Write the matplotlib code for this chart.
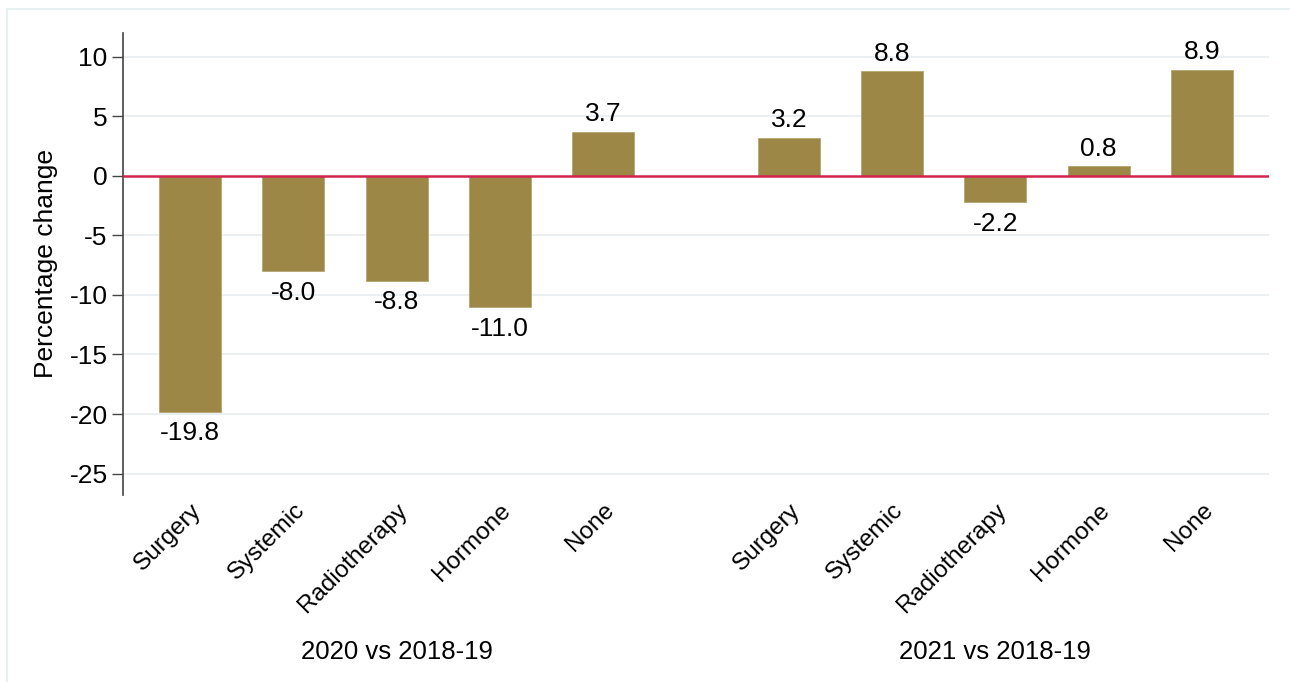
import matplotlib.pyplot as plt
from matplotlib.patches import Rectangle
from matplotlib.ticker import FuncFormatter

plt.rcParams['font.family'] = ['Liberation Sans', 'DejaVu Sans']

treatments = ["Surgery", "Systemic", "Radiotherapy", "Hormone", "None"]
groups = ["2020 vs 2018-19", "2021 vs 2018-19"]
change_2020 = [-19.8, -8.0, -8.8, -11.0, 3.7]
change_2021 = [3.2, 8.8, -2.2, 0.8, 8.9]

bar_color = "#9C8747"
gap = 5.8

fig = plt.figure(figsize=(12.9, 6.82), dpi=100)
ax = fig.add_axes([123/1290, 1 - 495/682, (1269-123)/1290, (495-33)/682])

# light frame around the graph
fig.patches.append(Rectangle((7/1290, -0.01), 1.02, 1 - 9/682 + 0.01,
                             transform=fig.transFigure, fill=False,
                             edgecolor="#E3ECEF", linewidth=1.2))

xs = []
vals = []
labels = []
for g, series in enumerate([change_2020, change_2021]):
    for i, v in enumerate(series):
        xs.append(g * gap + i)
        vals.append(v)
        labels.append(treatments[i])

for y in range(-25, 11, 5):
    if y != 0:
        ax.axhline(y, color="#E8EFF1", lw=1.3, zorder=0)

ax.bar(xs, vals, width=0.6, color=bar_color, edgecolor="#B5A66E", linewidth=0.6, zorder=2)
ax.axhline(0, color="#D3234F", lw=1.8, zorder=3)

for x, v in zip(xs, vals):
    if v >= 0:
        ax.annotate(f"{v:.1f}", (x, v), xytext=(0, 4), textcoords="offset points",
                    ha="center", va="bottom", fontsize=19)
    else:
        ax.annotate(f"{v:.1f}", (x, v), xytext=(0, -7), textcoords="offset points",
                    ha="center", va="top", fontsize=19)

ax.set_xlim(-0.65, 10.45)
ax.set_ylim(-26.8, 12)
ax.set_yticks(range(-25, 11, 5))
ax.yaxis.set_major_formatter(FuncFormatter(lambda v, p: f"{v:.0f}"))
ax.tick_params(axis="y", labelsize=19, length=8, width=1, color="#444444", pad=3)
ax.set_xticks(xs)
ax.set_xticklabels(labels, rotation=45, ha="right", rotation_mode="anchor", fontsize=17.5)
ax.tick_params(axis="x", length=0, pad=3)
ax.set_ylabel("Percentage change", fontsize=19, labelpad=8)

for s in ["top", "right", "bottom"]:
    ax.spines[s].set_visible(False)
ax.spines["left"].set_color("#444444")
ax.spines["left"].set_linewidth(1.2)

for g, name in enumerate(groups):
    xc = g * gap + 2
    ax.annotate(name, xy=(xc, 0), xycoords=("data", "figure fraction"),
                xytext=(0, 1 - 652/682), textcoords=("offset points", "figure fraction"),
                ha="center", va="center", fontsize=18.5)

fig.savefig("out.png", dpi=100)
